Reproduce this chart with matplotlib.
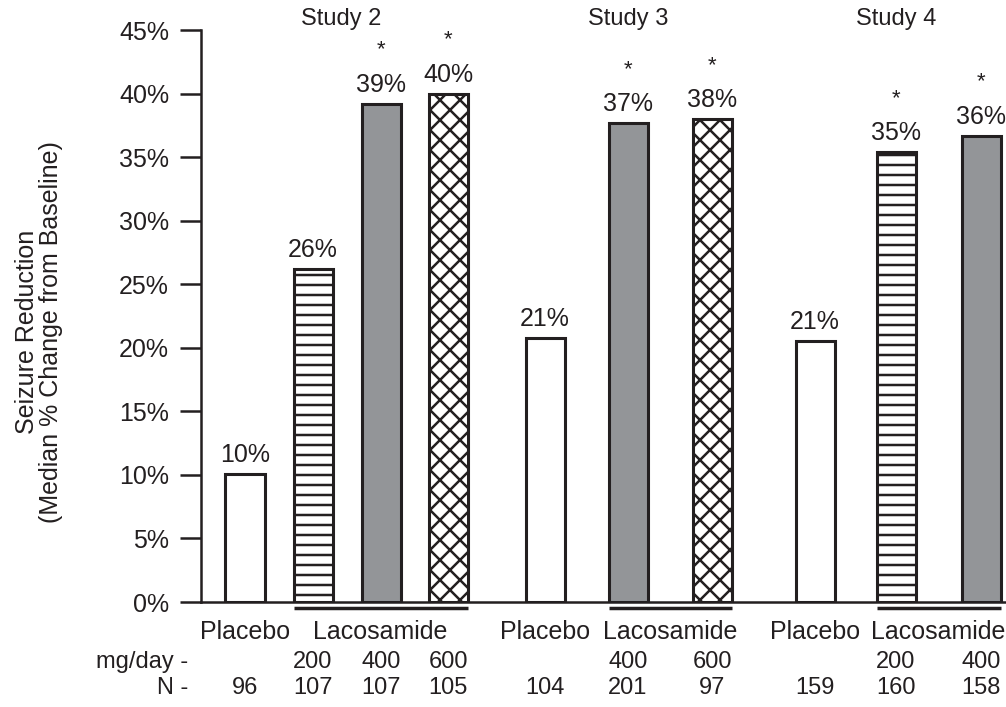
import matplotlib
matplotlib.use("Agg")
import matplotlib.pyplot as plt

plt.rcParams['font.family'] = ['Liberation Sans Narrow', 'Liberation Sans', 'DejaVu Sans']

# data
studies = ['Study 2', 'Study 3', 'Study 4']
groups = ['Placebo', '200', '400', '600',
          'Placebo', '400', '600',
          'Placebo', '200', '400']
values = [10.1, 26.2, 39.2, 40.0, 20.8, 37.7, 38.0, 20.5, 35.4, 36.7]
value_labels = ['10%', '26%', '39%', '40%', '21%', '37%', '38%', '21%', '35%', '36%']
significant = [False, False, True, True, False, True, True, False, True, True]
n_patients = ['96', '107', '107', '105', '104', '201', '97', '159', '160', '158']
yticks = [0, 5, 10, 15, 20, 25, 30, 35, 40, 45]

# layout (x in pixel-like units of the original)
xpos = [245, 313, 381, 448, 545, 628, 712, 815, 896, 981]
study_of_bar = [0, 0, 0, 0, 1, 1, 1, 2, 2, 2]
study_label_x = [341, 628, 896]
bar_w = 39
gray = '#939598'
ink = '#231f20'
styles = {'Placebo': dict(color='white', hatch=None),
          '200': dict(color='white', hatch='--'),
          '400': dict(color=gray, hatch=None),
          '600': dict(color='white', hatch='xx')}

# dpi 120 so the hatch spacing matches; sizes below are given as if at 100 dpi
DPI = 120
def pt(v):
    return v * 100 / DPI

plt.rcParams['hatch.linewidth'] = pt(1.8)

fig = plt.figure(figsize=(1006 / DPI, 707 / DPI), dpi=DPI)
ax = fig.add_axes([201 / 1006, 105 / 707, 805 / 1006, 572 / 707])
ax.set_xlim(201, 1006)
ax.set_ylim(0, 45)

for x, g, v, lab, sig in zip(xpos, groups, values, value_labels, significant):
    st = styles[g]
    ax.bar(x, v, width=bar_w, color=st['color'], hatch=st['hatch'],
           edgecolor=ink, linewidth=pt(2.2), zorder=3)
    ax.annotate(lab, (x, v), xytext=(0, pt(5)), textcoords='offset points',
                ha='center', va='bottom', fontsize=pt(18), color=ink)
    if sig:
        ax.annotate('*', (x, v), xytext=(0, pt(31)), textcoords='offset points',
                    ha='center', va='bottom', fontsize=pt(16), color=ink)

for name, sx in zip(studies, study_label_x):
    ax.text(sx, 45.9, name, ha='center', va='center', fontsize=pt(17),
            color=ink, clip_on=False)

# group labels under the axis
for s in range(len(studies)):
    idx = [i for i in range(len(xpos)) if study_of_bar[i] == s]
    plac = [i for i in idx if groups[i] == 'Placebo']
    laco = [i for i in idx if groups[i] != 'Placebo']
    for i in plac:
        ax.text(xpos[i], -2.36, 'Placebo', ha='center', va='center',
                fontsize=pt(18), color=ink, clip_on=False)
    x0 = xpos[laco[0]] - bar_w / 2
    x1 = xpos[laco[-1]] + bar_w / 2
    ax.plot([x0, x1], [-0.5, -0.5], color=ink, lw=pt(2.5),
            clip_on=False, solid_capstyle='butt')
    ax.text((x0 + x1) / 2, -2.36, 'Lacosamide', ha='center', va='center',
            fontsize=pt(18), color=ink, clip_on=False)

ax.text(188, -4.75, 'mg/day -', ha='right', va='center', fontsize=pt(17),
        color=ink, clip_on=False)
ax.text(188, -6.8, 'N -', ha='right', va='center', fontsize=pt(17),
        color=ink, clip_on=False)
for x, g, n in zip(xpos, groups, n_patients):
    if g != 'Placebo':
        ax.text(x, -4.75, g, ha='center', va='center', fontsize=pt(17),
                color=ink, clip_on=False)
    ax.text(x, -6.8, n, ha='center', va='center', fontsize=pt(17),
            color=ink, clip_on=False)

ax.set_yticks(yticks)
ax.set_yticklabels([f'{t}%' for t in yticks])
ax.set_xticks([])
ax.tick_params(axis='y', length=pt(15), width=pt(1.8), pad=pt(8),
               labelsize=pt(18), colors=ink)
for side in ['top', 'right']:
    ax.spines[side].set_visible(False)
for side in ['left', 'bottom']:
    ax.spines[side].set_linewidth(pt(1.8))
    ax.spines[side].set_color(ink)

fig.text(39 / 1006, 1 - 332 / 707,
         'Seizure Reduction\n(Median % Change from Baseline)',
         rotation=90, ha='center', va='center', fontsize=pt(18),
         color=ink, linespacing=1.0)

fig.savefig('out.png', dpi=DPI)
